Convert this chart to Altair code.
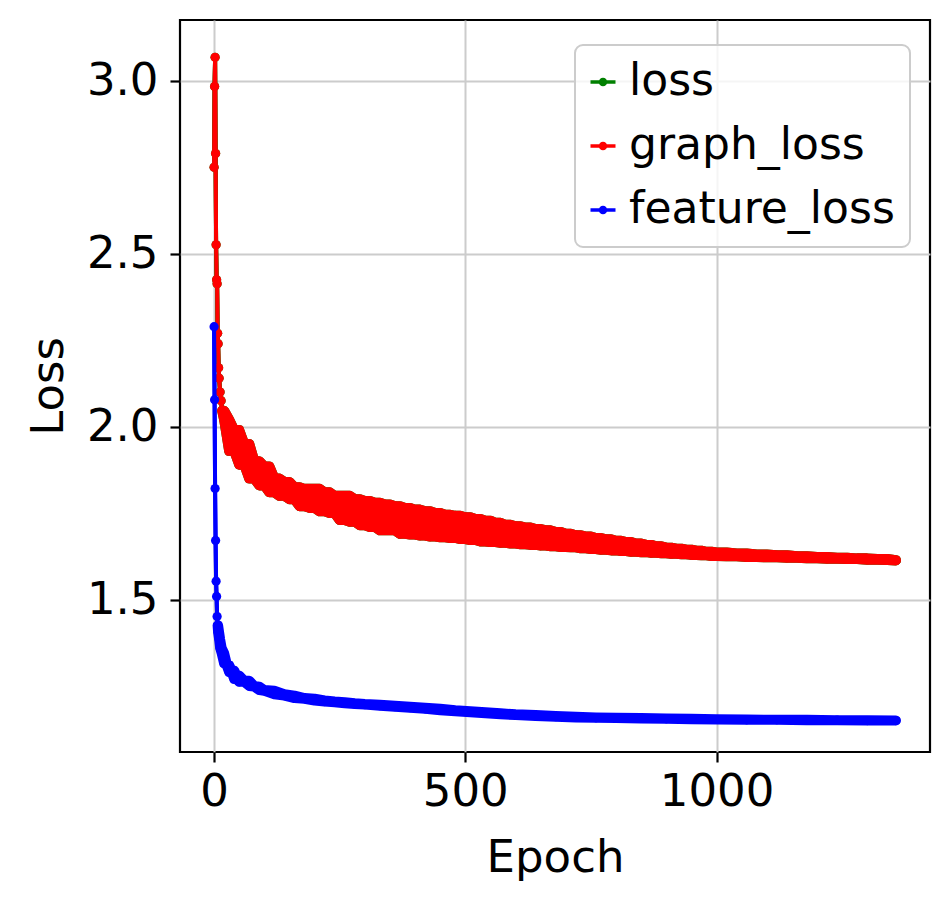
import altair as alt
import pandas as pd

series_names = ["loss", "graph_loss", "feature_loss"]
series_colors = ["#008000", "#ff0000", "#0000ff"]

graph_epochs = [0, 1, 2, 3, 4, 5, 6, 7, 8, 9, 10, 12, 14, 16,
                20, 30, 40, 50, 60, 70, 80, 90, 100, 110, 120, 130, 140, 150, 160, 170,
                180, 190, 200, 210, 220, 230, 240, 250, 260, 270, 280, 290, 300, 310,
                320, 330, 340, 350, 360, 370, 380, 390, 400, 410, 420, 430, 440, 450,
                460, 470, 480, 490, 500, 510, 520, 530, 540, 550, 560, 570, 580, 590,
                600, 610, 620, 630, 640, 650, 660, 670, 680, 690, 700, 710, 720, 730,
                740, 750, 760, 770, 780, 790, 800, 810, 820, 830, 840, 850, 860, 870,
                880, 890, 900, 910, 920, 930, 940, 950, 960, 970, 980, 990, 1000,
                1020, 1040, 1060, 1080, 1100, 1120, 1140, 1160, 1180, 1200, 1220, 1240,
                1260, 1280, 1300, 1320, 1340, 1357]
graph_values = [2.75, 2.984, 3.068, 2.79, 2.526, 2.425, 2.413, 2.27, 2.24, 2.17, 2.14, 2.10, 2.075, 2.046,
                2.02, 1.93, 1.99, 1.89, 1.95, 1.85, 1.90, 1.83, 1.885, 1.81, 1.85, 1.80, 1.84, 1.79, 1.825, 1.77,
                1.82, 1.765, 1.82, 1.755, 1.81, 1.75, 1.80, 1.73, 1.80, 1.725, 1.79, 1.715, 1.785, 1.71,
                1.78, 1.70, 1.775, 1.70, 1.77, 1.69, 1.765, 1.688, 1.76, 1.685, 1.755, 1.682, 1.75, 1.68,
                1.745, 1.678, 1.742, 1.675, 1.738, 1.672, 1.733, 1.668, 1.728, 1.666, 1.722, 1.664, 1.716, 1.662,
                1.712, 1.66, 1.708, 1.658, 1.704, 1.656, 1.70, 1.654, 1.695, 1.652, 1.69, 1.651, 1.686, 1.648,
                1.682, 1.646, 1.678, 1.644, 1.674, 1.642, 1.670, 1.640, 1.666, 1.638, 1.662, 1.637, 1.658, 1.635,
                1.654, 1.634, 1.650, 1.632, 1.647, 1.631, 1.644, 1.629, 1.641, 1.628, 1.638, 1.626, 1.636,
                1.625, 1.633, 1.623, 1.630, 1.622, 1.628, 1.621, 1.625, 1.619, 1.623, 1.618, 1.621,
                1.617, 1.619, 1.615, 1.617, 1.614, 1.613]

# total loss coincides with graph_loss (the green curve is hidden under the red one)
loss_epochs = graph_epochs
loss_values = graph_values

feature_epochs = [0, 1, 2, 3, 4, 5, 6, 7, 8, 10, 12, 15, 20, 25, 30, 35, 40, 45, 50, 60, 70, 80, 90,
                  100, 120, 140, 160, 180, 200, 220, 240, 260, 280, 300, 330, 360, 390, 420, 450,
                  480, 510, 540, 570, 600, 640, 680, 720, 760, 800, 850, 900, 950, 1000, 1060,
                  1120, 1180, 1240, 1300, 1357]
feature_values = [2.289, 2.078, 1.821, 1.671, 1.553, 1.509, 1.451, 1.425, 1.405, 1.385, 1.36, 1.345,
                  1.315, 1.31, 1.29, 1.295, 1.27, 1.28, 1.262, 1.265, 1.25, 1.248, 1.238, 1.236, 1.226,
                  1.222, 1.215, 1.213, 1.208, 1.205, 1.203, 1.200, 1.198, 1.196, 1.193, 1.190, 1.187,
                  1.184, 1.180, 1.177, 1.174, 1.171, 1.168, 1.166, 1.163, 1.161, 1.159, 1.158, 1.157,
                  1.156, 1.155, 1.154, 1.153, 1.152, 1.152, 1.151, 1.151, 1.150, 1.150]

# epoch from which the markers are dense enough to merge into a solid band
dense_from = {"loss": 16, "graph_loss": 16, "feature_loss": 7}

x_ticks = [0, 500, 1000]
y_ticks = [1.5, 2.0, 2.5, 3.0]
x_domain = [-67.85, 1424.85]
y_domain = [1.059, 3.176]

FONT = "DejaVu Sans"

rows = []
for name, eps, vals in [("loss", loss_epochs, loss_values),
                        ("graph_loss", graph_epochs, graph_values),
                        ("feature_loss", feature_epochs, feature_values)]:
    for e, v in zip(eps, vals):
        rows.append({"series": name, "epoch": e, "value": v})
df = pd.DataFrame(rows)

x_enc = alt.X("epoch:Q", scale=alt.Scale(domain=x_domain, nice=False, zero=False),
              axis=alt.Axis(values=x_ticks, title="Epoch", format="d",
                            titleY=119, titleBaseline="alphabetic",
                            labelBaseline="alphabetic", labelPadding=43))
y_enc = alt.Y("value:Q", scale=alt.Scale(domain=y_domain, nice=False, zero=False),
              axis=alt.Axis(values=y_ticks, title="Loss", format=".1f",
                            titleX=-118, titleBaseline="alphabetic",
                            labelPadding=12))

legend_path = ("M-1,0L1,0"
               "M-0.2,0A0.2,0.2,0,1,0,0.2,0A0.2,0.2,0,1,0,-0.2,0"
               "M-0.08,0A0.08,0.08,0,1,0,0.08,0A0.08,0.08,0,1,0,-0.08,0")

base_lines = alt.Chart(df).mark_line(strokeWidth=4, strokeCap="round", strokeJoin="round").encode(
    x=x_enc, y=y_enc,
    color=alt.Color("series:N",
                    scale=alt.Scale(domain=series_names, range=series_colors),
                    sort=series_names,
                    legend=alt.Legend(title=None, orient="none", legendX=395, legendY=25,
                                      symbolType=legend_path, symbolSize=625,
                                      symbolStrokeWidth=3.5, symbolOffset=-9,
                                      labelFont=FONT, labelFontSize=44, labelColor="black",
                                      labelOffset=4, labelLimit=600, rowPadding=20,
                                      padding=15, cornerRadius=8,
                                      strokeColor="#cccccc",
                                      fillColor="rgba(255,255,255,0.8)")),
    detail="series:N",
)

layers = [base_lines]
for name, col in zip(series_names, series_colors):
    sub = df[df["series"] == name].reset_index(drop=True)
    dense = sub[sub["epoch"] >= dense_from[name]].reset_index(drop=True).copy()
    # envelope swept by consecutive noisy samples (markers overlap into a solid band)
    dense["lo"] = dense["value"].rolling(2, min_periods=1).min()
    dense["hi"] = dense["value"].rolling(2, min_periods=1).max()
    band = alt.Chart(dense).mark_area(color=col, stroke=col, strokeWidth=10,
                                      strokeJoin="round", strokeCap="round",
                                      opacity=1).encode(
        x="epoch:Q", y="lo:Q", y2="hi:Q")
    thin = alt.Chart(sub).mark_line(color=col, strokeWidth=4, strokeCap="round",
                                    strokeJoin="round").encode(x="epoch:Q", y="value:Q")
    pts = alt.Chart(sub).mark_point(color=col, filled=True, size=85, opacity=1).encode(
        x="epoch:Q", y="value:Q")
    layers += [thin, band, pts]

chart = alt.layer(*layers).properties(
    width=750, height=732,
    padding={"left": 180, "top": 20, "right": 22, "bottom": 152},
    autosize=alt.AutoSizeParams(type="none"),
).configure_view(
    stroke="black", strokeWidth=2.2
).configure_axis(
    domain=False, grid=True, gridColor="#cccccc", gridWidth=2,
    ticks=True, tickColor="black", tickWidth=2.2, tickSize=10,
    labelFont=FONT, labelFontSize=45, labelColor="black",
    titleFont=FONT, titleFontSize=45, titleFontWeight="normal", titleColor="black",
).configure_legend(strokeWidth=2)

chart.save("out.html", embed_options={"renderer": "svg", "actions": False})
